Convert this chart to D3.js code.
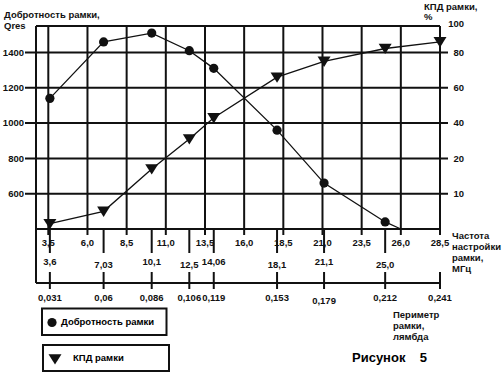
<!DOCTYPE html>
<html>
<head>
<meta charset="utf-8">
<script src="https://cdn.jsdelivr.net/npm/d3@7"></script>
<style>
  body { margin: 0; background: #fff; }
  svg { display: block; font-family: "Liberation Sans", Arial, sans-serif; font-weight: bold; }
</style>
</head>
<body>
<div id="chart"></div>
<script>
// Данные с рисунка
const freqTicks = [3.5, 6.0, 8.5, 11.0, 13.5, 16.0, 18.5, 21.0, 23.5, 26.0, 28.5];
const measFreq = [3.6, 7.03, 10.1, 12.5, 14.06, 18.1, 21.1, 25.0, 28.5];
const perimeter = [0.031, 0.06, 0.086, 0.106, 0.119, 0.153, 0.179, 0.212, 0.241];
const qValues = [1140, 1460, 1510, 1410, 1310, 960, 660, 440];
const qLineEnd = [26.0, 400];
const effValues = [1.5, 5, 17, 31, 43, 66, 75, 83, 88];
const qTicks = [1400, 1200, 1000, 800, 600];
const effTicks = [80, 60, 40, 20, 10];
const effSteps = [0, 10, 20, 40, 60, 80, 100];
const qSteps = [400, 600, 800, 1000, 1200, 1400, 1550];

const width = 503, height = 373;
const plotLeft = 36, plotRight = 440, plotTop = 26, plotBottom = 229, frameBottom = 283;

const svg = d3.select('#chart').append('svg')
    .attr('width', width)
    .attr('height', height);

const x = d3.scaleLinear().domain(d3.extent(freqTicks)).range([48.3, plotRight]);
const yQ = d3.scaleLinear().domain([400, 1550]).range([plotBottom, plotTop]);
// шкала КПД неравномерная: каждая метка на своей линии сетки
const yEff = d3.scaleLinear().domain(effSteps).range(qSteps.map(yQ));

const ink = '#111';

// горизонтальные линии сетки
svg.append('g')
    .selectAll('line')
    .data(qTicks)
    .enter()
    .append('line')
    .attr('x1', 25).attr('x2', 448)
    .attr('y1', d => yQ(d)).attr('y2', d => yQ(d))
    .attr('stroke', ink).attr('stroke-width', 2);

// рамка
const frame = svg.append('g').attr('stroke', ink).attr('stroke-width', 2);
frame.append('line').attr('x1', plotLeft).attr('x2', plotRight).attr('y1', plotTop).attr('y2', plotTop);
frame.append('line').attr('x1', plotLeft).attr('x2', plotRight).attr('y1', plotBottom).attr('y2', plotBottom);
frame.append('line').attr('x1', plotLeft).attr('x2', plotRight).attr('y1', frameBottom).attr('y2', frameBottom);
frame.append('line').attr('x1', plotLeft).attr('x2', plotLeft).attr('y1', plotTop).attr('y2', frameBottom);

// вертикальные линии сетки (частота)
svg.append('g')
    .selectAll('line')
    .data(freqTicks)
    .enter()
    .append('line')
    .attr('x1', d => x(d)).attr('x2', d => x(d))
    .attr('y1', plotTop).attr('y2', plotBottom + 6)
    .attr('stroke', ink).attr('stroke-width', 2);

// вторая строка: частоты измерений
svg.append('g')
    .selectAll('line')
    .data(measFreq.slice(0, 8))
    .enter()
    .append('line')
    .attr('x1', d => x(d)).attr('x2', d => x(d))
    .attr('y1', plotBottom).attr('y2', plotBottom + 24)
    .attr('stroke', ink).attr('stroke-width', 2);

// третья строка: периметр
svg.append('g')
    .selectAll('line')
    .data(measFreq)
    .enter()
    .append('line')
    .attr('x1', d => x(d)).attr('x2', d => x(d))
    .attr('y1', frameBottom - 11).attr('y2', frameBottom + 6)
    .attr('stroke', ink).attr('stroke-width', 2);

const fmt = v => String(v).replace('.', ',');
const fmt1 = v => v.toFixed(1).replace('.', ',');

const labels = svg.append('g').attr('font-size', '9.5px').attr('fill', ink);

labels.selectAll('.fq')
    .data(freqTicks)
    .enter()
    .append('text')
    .attr('x', d => x(d)).attr('y', 243)
    .attr('dy', '0.35em').attr('text-anchor', 'middle')
    .text(fmt1);

labels.selectAll('.mf')
    .data(measFreq.slice(0, 8))
    .enter()
    .append('text')
    .attr('x', d => x(d)).attr('y', (d, i) => i % 2 ? 265 : 262)
    .attr('dy', '0.35em').attr('text-anchor', 'middle')
    .text(d => d % 1 === 0 ? fmt1(d) : fmt(d));

labels.selectAll('.pm')
    .data(perimeter)
    .enter()
    .append('text')
    .attr('x', (d, i) => x(measFreq[i])).attr('y', (d, i) => i === 6 ? 300.5 : 298)
    .attr('dy', '0.35em').attr('text-anchor', 'middle')
    .text(fmt);

labels.selectAll('.ql')
    .data(qTicks)
    .enter()
    .append('text')
    .attr('x', 24).attr('y', d => yQ(d))
    .attr('dy', '0.35em').attr('text-anchor', 'end')
    .text(d => d);

labels.selectAll('.el')
    .data([100].concat(effTicks))
    .enter()
    .append('text')
    .attr('x', 464).attr('y', d => d === 100 ? yEff(d) - 2 : yEff(d))
    .attr('dy', '0.35em').attr('text-anchor', 'end')
    .text(d => d);

// подписи осей
const multi = (lines, x0, y0, step) => {
    lines.forEach((t, i) => {
        labels.append('text')
            .attr('x', x0).attr('y', y0 + i * step)
            .attr('dy', '0.35em')
            .text(t);
    });
};
multi(['Добротность рамки,', 'Qres'], 4, 15, 11);
multi(['КПД рамки,', '%'], 424, 7, 10);
multi(['Частота', 'настройки', 'рамки,', 'МГц'], 452, 236, 11);
multi(['Периметр', 'рамки,', 'лямбда'], 393, 315, 11);

svg.append('text')
    .attr('x', 352).attr('y', 357)
    .attr('dy', '0.35em')
    .attr('font-size', '13px')
    .style('white-space', 'pre')
    .text('Рисунок    5');

// кривая добротности
const qPoints = qValues.map((v, i) => [x(measFreq[i]), yQ(v)]);
svg.append('path')
    .datum(qPoints.concat([[x(qLineEnd[0]), yQ(qLineEnd[1])]]))
    .attr('d', d3.line())
    .attr('fill', 'none').attr('stroke', ink).attr('stroke-width', 1.3);

svg.append('g')
    .selectAll('circle')
    .data(qPoints)
    .enter()
    .append('circle')
    .attr('cx', d => d[0]).attr('cy', d => d[1])
    .attr('r', 4.6).attr('fill', ink);

// кривая КПД
const effPoints = effValues.map((v, i) => [x(measFreq[i]), yEff(v)]);
svg.append('path')
    .datum(effPoints)
    .attr('d', d3.line())
    .attr('fill', 'none').attr('stroke', ink).attr('stroke-width', 1.3);

const tri = 'M-6.5,-4.8L6.5,-4.8L0,5.6Z';
svg.append('g')
    .selectAll('path')
    .data(effPoints)
    .enter()
    .append('path')
    .attr('d', tri)
    .attr('transform', d => `translate(${d[0]},${d[1]})`)
    .attr('fill', ink);

// легенда
const legend = svg.append('g');
legend.append('rect')
    .attr('x', 42).attr('y', 308.5).attr('width', 124.5).attr('height', 26.5)
    .attr('fill', 'none').attr('stroke', ink).attr('stroke-width', 2);
legend.append('circle').attr('cx', 52).attr('cy', 322.5).attr('r', 4.6).attr('fill', ink);
legend.append('text').attr('x', 61).attr('y', 322).attr('dy', '0.35em')
    .attr('font-size', '9.5px').text('Добротность рамки');

legend.append('rect')
    .attr('x', 43).attr('y', 345).attr('width', 126).attr('height', 26)
    .attr('fill', 'none').attr('stroke', ink).attr('stroke-width', 2);
legend.append('path').attr('d', tri).attr('transform', 'translate(55,359)').attr('fill', ink);
legend.append('text').attr('x', 73).attr('y', 358).attr('dy', '0.35em')
    .attr('font-size', '9.5px').text('КПД рамки');
</script>
</body>
</html>
